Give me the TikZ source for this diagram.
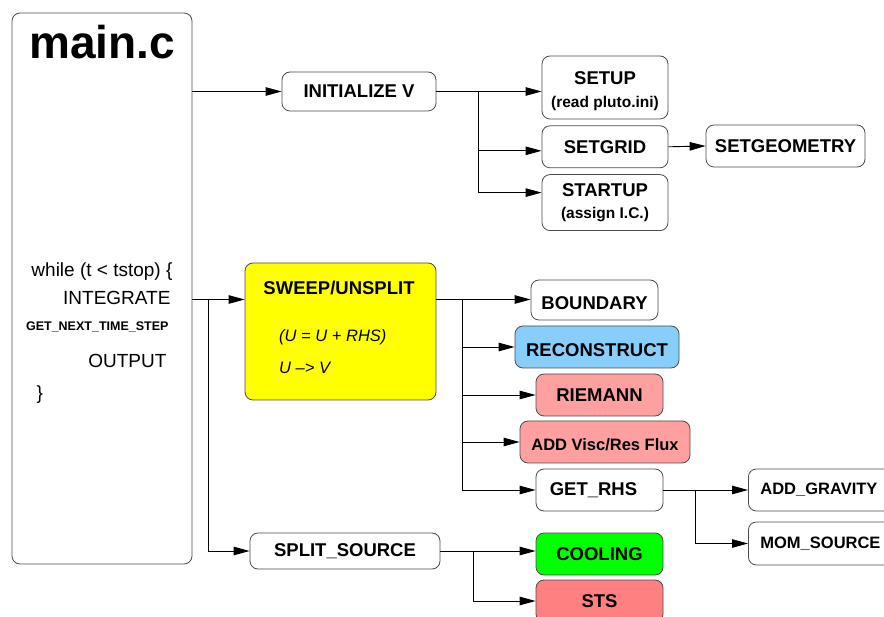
\documentclass[tikz,border=0pt]{standalone}
\usepackage{fontspec}
\setmainfont{Liberation Sans}
\usetikzlibrary{arrows.meta,positioning}

\definecolor{sweepyellow}{RGB}{255,255,0}
\definecolor{reconblue}{RGB}{135,206,250}
\definecolor{fluxpink}{RGB}{255,160,160}
\definecolor{stsred}{RGB}{255,128,128}
\definecolor{coolgreen}{RGB}{0,255,0}

\newcommand{\fs}[1]{\fontsize{#1}{#1}\selectfont}
\newcommand{\subline}[1]{{\bfseries\fs{15.5}#1}}

\begin{document}
\begin{tikzpicture}[
    x=1pt, y=-1pt,
    every node/.style={font=\fs{19}},
    box/.style={draw=black!70, line width=0.8pt, rounded corners=8pt, fill=white, align=center, inner sep=0pt, font=\bfseries\fs{18.5}},
    flow/.style={-{Triangle[length=16pt,width=8.5pt]}, line width=0.9pt}
]
\clip (0,0) rectangle (884,617);

\node[box, minimum width=180, minimum height=551] (main) at (102,288.5) {};
\node[font=\bfseries\fs{46}] (maintitle) at (102,42) {main.c};
\node[anchor=east] (loop) at (176,272) {while (t < tstop) \{};
\node[anchor=east] (integrate) at (174,298) {INTEGRATE};
\node[anchor=east, font=\bfseries\fs{12.5}] (nextstep) at (172,327) {GET\_NEXT\_TIME\_STEP};
\node[anchor=east] (output) at (170,361) {OUTPUT};
\node[anchor=west] (loopend) at (33,395) {\}};

\node[box, minimum width=154, minimum height=39] (init) at (359,91.5) {INITIALIZE V};
\node[box, minimum width=126, minimum height=63] (setup) at (605,87.5) {\rule{0pt}{20pt}SETUP\\[4pt]\subline{(read pluto.ini)}};
\node[box, minimum width=126, minimum height=42, below=6pt of setup] (setgrid) {SETGRID};
\node[box, minimum width=126, minimum height=56, below=6pt of setgrid] (startup) {STARTUP\\[3pt]\subline{(assign I.C.)}};
\node[box, minimum width=159, minimum height=42] (setgeom) at (785.5,146) {SETGEOMETRY};

\node[box, fill=sweepyellow, minimum width=191, minimum height=137] (sweep) at (340.5,331.5) {};
\node[font=\bfseries\fs{18.5}] (sweeptitle) at (339,288) {SWEEP/UNSPLIT};
\node[anchor=west, font=\itshape\fs{16.5}, inner xsep=0pt] (update) at (279,337) {(U = U + RHS)};
\node[anchor=west, font=\itshape\fs{16.5}, inner xsep=0pt] (convert) at (279,368) {U --> V};

\node[box, minimum width=190, minimum height=36] (split) at (345,551) {SPLIT\_SOURCE};

\node[box, minimum width=127, minimum height=40] (boundary) at (594.5,300) {\rule{0pt}{19pt}BOUNDARY};
\node[box, fill=reconblue, minimum width=164, minimum height=42] (recon) at (597,347) {\rule{0pt}{20pt}RECONSTRUCT};
\node[box, fill=fluxpink, minimum width=127, minimum height=42] (riemann) at (599.5,395) {RIEMANN};
\node[box, fill=fluxpink, minimum width=170, minimum height=42, font=\bfseries\fs{16.5}] (viscflux) at (605,442) {\rule{0pt}{18pt}ADD Visc/Res Flux};
\node[box, minimum width=127, minimum height=42] (getrhs) at (599.5,490) {GET\_RHS\hspace{12pt}};
\node[box, anchor=west, minimum height=42, text width=134pt, inner xsep=12pt, align=left, font=\bfseries\fs{16.5}] (gravity) at (748,490) {ADD\_GRAVITY};
\node[box, anchor=west, minimum height=43, text width=134pt, inner xsep=12pt, align=left, font=\bfseries\fs{16.5}] (momsrc) at (748,543.5) {MOM\_SOURCE};

\node[box, fill=coolgreen, minimum width=127, minimum height=42] (cooling) at (599.5,554) {COOLING};
\node[box, fill=stsred, minimum width=127, minimum height=42] (sts) at (599.5,601) {STS};

\coordinate (initfork) at (478,91.5);
\coordinate (sweepin) at ([yshift=32pt]sweep.west);
\coordinate (sweepout) at ([yshift=32pt]sweep.east);
\coordinate (mainfork) at (208,299.5);
\coordinate (sweepfork) at (462,299.5);
\coordinate (rhsfork) at (695,490);
\coordinate (splitfork) at (473,551);

\draw[flow] (main.east |- init.west) -- (init.west);
\draw[flow] (init.east) -- (setup.west |- init.east);
\draw[flow] (initfork) |- ([yshift=-4pt]setgrid.west);
\draw[flow] (initfork) |- ([yshift=10pt]startup.west);
\draw[flow] (setgrid.east) -- (setgeom.west);

\draw[flow] (main.east |- sweepin) -- (sweepin);
\draw[flow] (mainfork) |- (split.west);

\draw[flow] (sweepout) -- (boundary.west |- sweepout);
\draw[flow] (sweepfork) |- (recon.west);
\draw[flow] (sweepfork) |- (riemann.west);
\draw[flow] (sweepfork) |- (viscflux.west);
\draw[flow] (sweepfork) |- (getrhs.west);

\draw[flow] (getrhs.east) -- (gravity.west);
\draw[flow] (rhsfork) |- (momsrc.west);

\draw[flow] (split.east) -- (cooling.west |- split.east);
\draw[flow] (splitfork) |- (sts.west);
\end{tikzpicture}
\end{document}
